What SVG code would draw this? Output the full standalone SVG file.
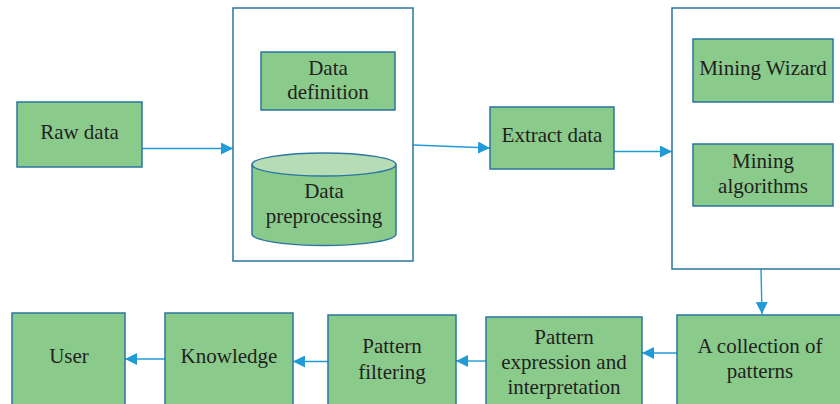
<svg xmlns="http://www.w3.org/2000/svg" width="840" height="404" viewBox="0 0 840 404">
  <defs>
    <style>
      .box { fill: #8acb8c; stroke: #2a75a0; stroke-width: 1.5; }
      .frame { fill: #ffffff; stroke: #2a75a0; stroke-width: 1.5; }
      .cyl-top { fill: #b6dcb6; stroke: #2a75a0; stroke-width: 1.5; }
      .label { font-family: "Liberation Serif", "DejaVu Serif", serif; font-size: 21px; fill: #231f20; text-anchor: middle; }
      .link { stroke: #219bd8; stroke-width: 1.4; fill: none; marker-end: url(#head); }
    </style>
    <marker id="head" viewBox="0 0 12 12" refX="12" refY="6" markerWidth="12" markerHeight="12" markerUnits="userSpaceOnUse" orient="auto">
      <path d="M0,0 L12,6 L0,12 Z" fill="#219bd8"/>
    </marker>
  </defs>

  <!-- connectors -->
  <g id="connectors">
    <line class="link" x1="142" y1="148.5" x2="233" y2="148.5"/>
    <line class="link" x1="413" y1="145" x2="490" y2="148"/>
    <line class="link" x1="614" y1="151.5" x2="672" y2="151.5"/>
    <line class="link" x1="761" y1="269" x2="762" y2="314"/>
    <line class="link" x1="677" y1="353" x2="642" y2="353"/>
    <line class="link" x1="486" y1="361" x2="456" y2="361"/>
    <line class="link" x1="328" y1="361.5" x2="293" y2="361.5"/>
    <line class="link" x1="165" y1="359" x2="125" y2="359"/>
  </g>

  <!-- raw data -->
  <g id="raw-data">
    <rect class="box" x="17" y="102" width="125" height="65"/>
    <text class="label" x="79.5" y="139">Raw data</text>
  </g>

  <!-- definition and preprocessing stage -->
  <g id="prep-stage">
    <rect class="frame" x="233" y="8" width="180" height="253"/>
  </g>
  <g id="data-definition">
    <rect class="box" x="261" y="52" width="134" height="58"/>
    <text class="label" x="328" y="75">Data</text>
    <text class="label" x="328" y="99">definition</text>
  </g>
  <g id="data-preprocessing">
    <path class="box" d="M252,164.5 L252,234 A72,11.5 0 0 0 396,234 L396,164.5"/>
    <ellipse class="cyl-top" cx="324" cy="164.5" rx="72" ry="11.5"/>
    <text class="label" x="324" y="198">Data</text>
    <text class="label" x="324" y="223">preprocessing</text>
  </g>

  <!-- extract data -->
  <g id="extract-data">
    <rect class="box" x="490" y="107" width="124" height="62"/>
    <text class="label" x="552" y="142">Extract data</text>
  </g>

  <!-- mining stage -->
  <g id="mining-stage">
    <rect class="frame" x="672" y="8" width="180" height="261"/>
  </g>
  <g id="mining-wizard">
    <rect class="box" x="693" y="39" width="140" height="63"/>
    <text class="label" x="763" y="75">Mining Wizard</text>
  </g>
  <g id="mining-algorithms">
    <rect class="box" x="693" y="144" width="140" height="62"/>
    <text class="label" x="763" y="168">Mining</text>
    <text class="label" x="763" y="193">algorithms</text>
  </g>

  <!-- bottom row -->
  <g id="pattern-collection">
    <rect class="box" x="677" y="315" width="175" height="100"/>
    <text class="label" x="760" y="353">A collection of</text>
    <text class="label" x="760" y="378">patterns</text>
  </g>
  <g id="pattern-expression">
    <rect class="box" x="486" y="317" width="156" height="100"/>
    <text class="label" x="564" y="344">Pattern</text>
    <text class="label" x="564" y="369">expression and</text>
    <text class="label" x="564" y="394">interpretation</text>
  </g>
  <g id="pattern-filtering">
    <rect class="box" x="328" y="315" width="128" height="100"/>
    <text class="label" x="392" y="353">Pattern</text>
    <text class="label" x="392" y="379">filtering</text>
  </g>
  <g id="knowledge">
    <rect class="box" x="165" y="313" width="128" height="100"/>
    <text class="label" x="229" y="363">Knowledge</text>
  </g>
  <g id="user">
    <rect class="box" x="12" y="313" width="113" height="100"/>
    <text class="label" x="69" y="363">User</text>
  </g>
</svg>
